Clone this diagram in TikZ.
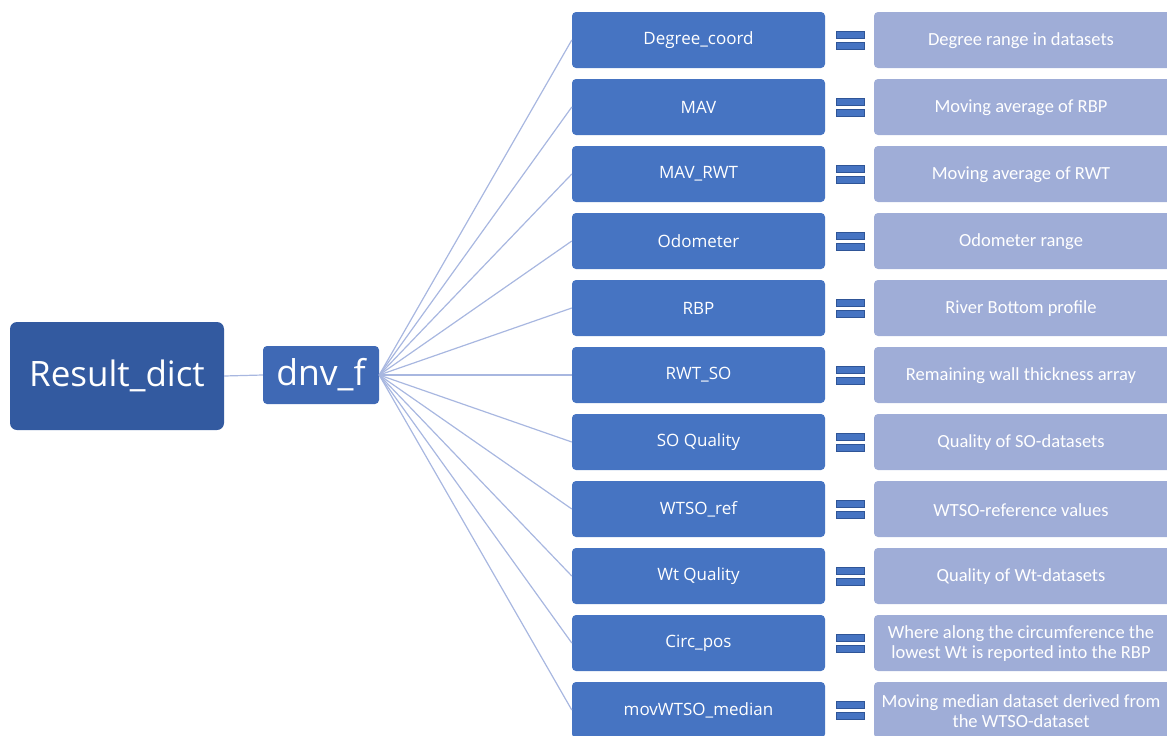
\documentclass[tikz,border=0pt]{standalone}
\usepackage{fontspec}
\setmainfont{Carlito}
\newfontfamily\keyfont{Open Sans}
\definecolor{rootblue}{HTML}{335AA0}
\definecolor{midblue}{HTML}{3F69B5}
\definecolor{keyblue}{HTML}{4674C2}
\definecolor{descblue}{HTML}{9FADD7}
\definecolor{linkblue}{HTML}{A8B7E0}
\definecolor{barline}{HTML}{2F5597}
\begin{document}
\begin{tikzpicture}[x=1pt,y=-1pt,
  rootbox/.style={fill=rootblue,rounded corners=7pt,text=white,minimum width=214pt,minimum height=108pt,inner sep=0pt,font=\keyfont\fontsize{35}{40}\selectfont},
  subbox/.style={fill=midblue,rounded corners=4pt,text=white,minimum width=116pt,minimum height=58pt,inner sep=0pt,font=\keyfont\fontsize{35.5}{40}\selectfont},
  keybox/.style={fill=keyblue,rounded corners=4pt,text=white,minimum width=253pt,minimum height=56pt,inner sep=0pt,font=\keyfont\fontsize{17}{20}\selectfont},
  descbox/.style={fill=descblue,rounded corners=4pt,text=white,minimum width=310pt,minimum height=56pt,inner sep=0pt},
  desctext/.style={text=white,align=center,font=\fontsize{18.5}{20}\selectfont},
  link/.style={draw=linkblue,line width=1.2pt},
  eqbar/.style={fill=keyblue,draw=barline,line width=0.5pt}
]
\useasboundingbox (0,0) rectangle (1167,736);
\clip (0,0) rectangle (1167,736);

% root and sub level
\node[rootbox] (root) at (117,376) {Result\_dict};
\node[subbox] (dnv) at (321,375) {dnv\_f};
\draw[link] (root.east) -- (dnv.west);

% keys, equal signs and descriptions
\foreach \i/\k/\d in {
  0/Degree\_coord/Degree range in datasets,
  1/MAV/Moving average of RBP,
  2/MAV\_RWT/Moving average of RWT,
  3/Odometer/Odometer range,
  4/RBP/River Bottom profile,
  5/RWT\_SO/Remaining wall thickness array,
  6/SO Quality/Quality of SO-datasets,
  7/WTSO\_ref/WTSO-reference values,
  8/Wt Quality/Quality of Wt-datasets,
  9/Circ\_pos/{Where along the circumference the\\lowest Wt is reported into the RBP},
  10/movWTSO\_median/{Moving median dataset derived from\\the WTSO-dataset}}
{
  \pgfmathsetmacro{\yy}{40+67*\i}
  \node[keybox] (k\i) at (698.5,\yy) {\k};
  \node[descbox] (d\i) at (1029,\yy) {};
  \node[desctext] (t\i) at (1021,\yy+1) {\d};
  \draw[eqbar] (836,\yy-9) rectangle (864,\yy-2);
  \draw[eqbar] (836,\yy+2) rectangle (864,\yy+9);
  \draw[link] (dnv.east) -- (k\i.west);
}
\end{tikzpicture}
\end{document}
